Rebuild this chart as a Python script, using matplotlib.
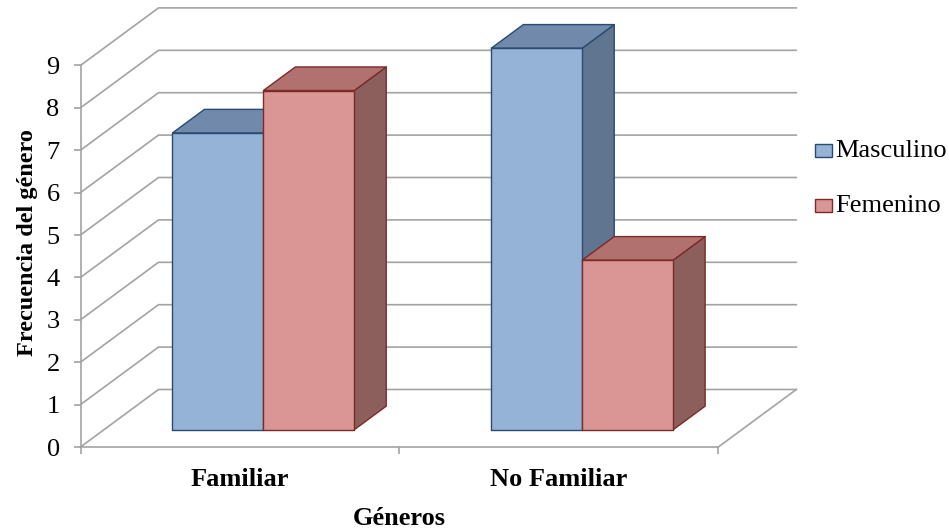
import matplotlib
matplotlib.use("Agg")
import matplotlib.pyplot as plt
from matplotlib.patches import Polygon, Rectangle

# data
categorias = ["Familiar", "No Familiar"]
series = ["Masculino", "Femenino"]
masculino = [7, 9]
femenino = [8, 4]

# styling
colores = {
    "Masculino": dict(front="#95B3D7", top="#7189AA", side="#5F7590", edge="#2B4A72"),
    "Femenino": dict(front="#D99694", top="#B0716F", side="#8C5F5D", edge="#7A2B29"),
}
grid_color = "#A3A3A3"
plt.rcParams["font.family"] = ["Liberation Serif", "DejaVu Serif"]

W, H = 949, 531
fig = plt.figure(figsize=(W / 100, H / 100), dpi=100)

# front plane of the plot area, in pixels
x0_px, x1_px = 80.5, 718.3
y0_px, ymax = 447.0, 9
unit_px = 42.4
ax = fig.add_axes([x0_px / W, (H - y0_px) / H, (x1_px - x0_px) / W, ymax * unit_px / H])
ax.set_xlim(0, len(categorias))
ax.set_ylim(0, ymax)

# depth of the 3D box expressed in data units
DX = 78.0 / ((x1_px - x0_px) / len(categorias))
DY = 57.5 / unit_px

# back wall gridlines + side wall diagonals
for k in range(ymax + 1):
    ax.plot([0, DX, len(categorias) + DX], [k, k + DY, k + DY],
            color=grid_color, lw=1.2, clip_on=False, zorder=1)
# floor right edge
ax.plot([len(categorias), len(categorias) + DX], [0, DY],
        color=grid_color, lw=1.2, clip_on=False, zorder=1)

# bars: front face, top face, right side face
bar_w = 0.285
d0, d1 = 0.30, 0.71
for i, cat in enumerate(categorias):
    c = i + 0.5
    for j, (name, vals) in enumerate(zip(series, [masculino, femenino])):
        v = vals[i]
        col = colores[name]
        xl = c - bar_w + j * bar_w + d0 * DX
        yb = d0 * DY
        xr = xl + bar_w
        yt = yb + v
        ddx = (d1 - d0) * DX
        ddy = (d1 - d0) * DY
        z = 2 + i * 2 + j * 0.5
        kw = dict(lw=1.0, edgecolor=col["edge"], clip_on=False, joinstyle="round")
        ax.add_patch(Polygon([(xr, yb), (xr + ddx, yb + ddy), (xr + ddx, yt + ddy), (xr, yt)],
                             facecolor=col["side"], zorder=z, **kw))
        ax.add_patch(Polygon([(xl, yt), (xl + ddx, yt + ddy), (xr + ddx, yt + ddy), (xr, yt)],
                             facecolor=col["top"], zorder=z, **kw))
        ax.add_patch(Rectangle((xl, yb), bar_w, v, facecolor=col["front"],
                               zorder=z + 0.1, **kw))

# axes
for s in ["top", "right"]:
    ax.spines[s].set_visible(False)
for s in ["left", "bottom"]:
    ax.spines[s].set_color(grid_color)
    ax.spines[s].set_linewidth(1.2)
ax.set_yticks(range(ymax + 1))
ax.set_xticks(range(len(categorias) + 1))
ax.set_xticklabels([])
ax.set_xticks([i + 0.5 for i in range(len(categorias))], minor=True)
ax.set_xticklabels(categorias, minor=True, fontweight="bold", fontsize=19)
ax.tick_params(axis="x", which="minor", length=0, pad=15)
ax.tick_params(axis="both", which="major", color=grid_color, width=1.2, length=5, direction="out")
ax.tick_params(axis="y", labelsize=19, pad=10)
ax.patch.set_alpha(0)

fig.text(399.4 / W, 1 - 525 / H, "Géneros", ha="center", va="baseline",
         fontsize=19, fontweight="bold")
fig.text(33 / W, 1 - 243 / H, "Frecuencia del género", ha="center", va="baseline",
         rotation=90, rotation_mode="anchor", fontsize=17.5, fontweight="bold")

# legend
for j, name in enumerate(series):
    base = 157 + j * 55
    fig.patches.append(Rectangle((815 / W, 1 - base / H), 17 / W, 13 / H,
                                 transform=fig.transFigure, facecolor=colores[name]["front"],
                                 edgecolor=colores[name]["edge"], lw=1.0))
    fig.text(835 / W, 1 - base / H, name, ha="left", va="baseline", fontsize=19)

fig.savefig("out.png", dpi=100)
